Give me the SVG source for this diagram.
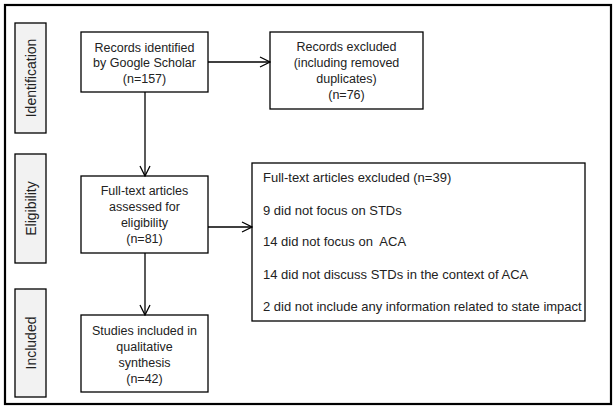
<svg xmlns="http://www.w3.org/2000/svg" width="615" height="406" viewBox="0 0 615 406">
<defs>
<marker id="arr" viewBox="0 0 12 12" refX="11" refY="6" markerWidth="12" markerHeight="12" markerUnits="userSpaceOnUse" orient="auto">
<path d="M1,1 L11,6 L1,11" fill="none" stroke="#000" stroke-width="1.3"/>
</marker>
<style>
.box{fill:#fff;stroke:#000;stroke-width:1.3}
.side{fill:#f2f2f2;stroke:#000;stroke-width:1.3}
text{font-family:"Liberation Sans",Arial,sans-serif;font-size:12.5px;fill:#222}
.c{text-anchor:middle}
.l{font-size:13px}
.lab{font-size:14px;text-anchor:middle}
.conn{fill:none;stroke:#000;stroke-width:1.3}
</style>
</defs>
<rect x="0" y="0" width="615" height="406" fill="#fff"/>
<rect x="5" y="5" width="606" height="399" fill="none" stroke="#000" stroke-width="2.2"/>
<g id="side-identification"><rect class="side" x="15" y="23" width="31" height="110"/><text class="lab" transform="translate(35.5,78) rotate(-90)">Identification</text></g>
<g id="side-eligibility"><rect class="side" x="15" y="154" width="31" height="109"/><text class="lab" transform="translate(35.5,208.5) rotate(-90)">Eligibility</text></g>
<g id="side-included"><rect class="side" x="15" y="289" width="31" height="108"/><text class="lab" transform="translate(35.5,343) rotate(-90)">Included</text></g>
<g id="records-identified"><rect class="box" x="81" y="32" width="127" height="60"/><text class="c" x="144.5" y="51.5">Records identified</text><text class="c" x="144.5" y="67">by Google Scholar</text><text class="c" x="144.5" y="83">(n=157)</text></g>
<g id="records-excluded"><rect class="box" x="270" y="32" width="153" height="77"/><text class="c" x="346.5" y="51">Records excluded</text><text class="c" x="346.5" y="67">(including removed</text><text class="c" x="346.5" y="83">duplicates)</text><text class="c" x="346.5" y="99">(n=76)</text></g>
<g id="fulltext-assessed"><rect class="box" x="81" y="176" width="127" height="77"/><text class="c" x="144.5" y="195">Full-text articles</text><text class="c" x="144.5" y="211">assessed for</text><text class="c" x="144.5" y="227">eligibility</text><text class="c" x="144.5" y="243">(n=81)</text></g>
<g id="fulltext-excluded"><rect class="box" x="252" y="163" width="333" height="158"/><text class="l" x="263" y="182">Full-text articles excluded (n=39)</text><text class="l" x="263" y="215">9 did not focus on STDs</text><text class="l" x="263" y="246" xml:space="preserve">14 did not focus on  ACA</text><text class="l" x="263" y="279">14 did not discuss STDs in the context of ACA</text><text class="l" x="263" y="311">2 did not include any information related to state impact</text></g>
<g id="studies-included"><rect class="box" x="81" y="315" width="127" height="77"/><text class="c" x="144.5" y="335">Studies included in</text><text class="c" x="144.5" y="351">qualitative</text><text class="c" x="144.5" y="367">synthesis</text><text class="c" x="144.5" y="383">(n=42)</text></g>
<g id="connectors">
<line class="conn" x1="208" y1="62" x2="270" y2="62" marker-end="url(#arr)"/>
<line class="conn" x1="145" y1="92" x2="145" y2="176" marker-end="url(#arr)"/>
<line class="conn" x1="208" y1="227" x2="252" y2="227" marker-end="url(#arr)"/>
<line class="conn" x1="145" y1="253" x2="145" y2="315" marker-end="url(#arr)"/>
</g>
</svg>
